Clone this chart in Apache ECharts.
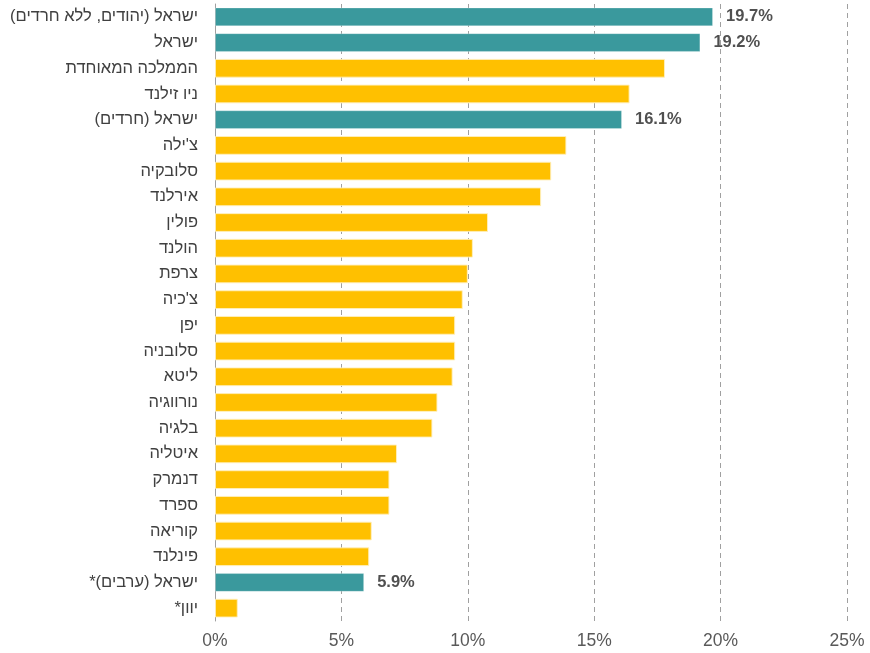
<!DOCTYPE html>
<html>
<head>
<meta charset="utf-8">
<script src="https://cdn.jsdelivr.net/npm/echarts@6/dist/echarts.min.js"></script>
<style>
  html, body { margin: 0; padding: 0; background: #ffffff; }
  #chart { width: 870px; height: 653px; }
</style>
</head>
<body>
<div id="chart" dir="rtl"></div>
<script>
// Categories, top to bottom
const categories = [
  'ישראל (יהודים, ללא חרדים)',
  'ישראל',
  'הממלכה המאוחדת',
  'ניו זילנד',
  'ישראל (חרדים)',
  "צ'ילה",
  'סלובקיה',
  'אירלנד',
  'פולין',
  'הולנד',
  'צרפת',
  "צ'כיה",
  'יפן',
  'סלובניה',
  'ליטא',
  'נורווגיה',
  'בלגיה',
  'איטליה',
  'דנמרק',
  'ספרד',
  'קוריאה',
  'פינלנד',
  'ישראל (ערבים)*',
  'יוון*'
];

// Share, in percent
const values = [
  19.7, 19.2, 17.8, 16.4, 16.1, 13.9, 13.3, 12.9, 10.8, 10.2, 10.0, 9.8,
  9.5, 9.5, 9.4, 8.8, 8.6, 7.2, 6.9, 6.9, 6.2, 6.1, 5.9, 0.9
];

// Israeli groups are drawn in teal and carry a value label
const israelRows = [true, true, false, false, true, false, false, false, false, false, false, false,
  false, false, false, false, false, false, false, false, false, false, true, false];

const tickValues = [0, 5, 10, 15, 20, 25];

const TEAL = '#3A999D';
const GOLD = '#FFC000';
const FONT = '"Liberation Sans", Arial, "DejaVu Sans", sans-serif';

const chart = echarts.init(document.getElementById('chart'), null, { renderer: 'canvas' });

const seriesData = values.map((v, i) => ({
  value: v,
  itemStyle: {
    color: israelRows[i] ? TEAL : GOLD,
    borderColor: israelRows[i] ? 'rgba(255,255,255,0.25)' : 'rgba(255,240,190,0.9)',
    borderWidth: 1
  },
  label: { show: israelRows[i] }
}));

chart.setOption({
  animation: false,
  backgroundColor: '#ffffff',
  grid: { left: 215, right: 23, top: 4, bottom: 32, containLabel: false },
  xAxis: {
    type: 'value',
    min: tickValues[0],
    max: tickValues[tickValues.length - 1],
    interval: 5,
    axisLine: { show: false },
    axisTick: { show: false },
    axisLabel: {
      formatter: v => v + '%',
      color: '#595959',
      fontFamily: FONT,
      fontSize: 17.5,
      margin: 11
    },
    splitLine: {
      show: true,
      lineStyle: { color: '#A0A0A0', type: [5, 4], width: 1 }
    }
  },
  yAxis: {
    type: 'category',
    data: categories,
    inverse: true,
    axisLine: { show: true, lineStyle: { color: '#A0A0A0', width: 1 } },
    axisTick: { show: false },
    axisLabel: {
      color: '#404040',
      fontFamily: FONT,
      fontSize: 16.5,
      margin: 17
    }
  },
  series: [{
    type: 'bar',
    data: seriesData,
    barCategoryGap: '27%',
    label: {
      position: 'right',
      distance: 13,
      formatter: p => p.value.toFixed(1) + '%',
      color: '#505050',
      fontFamily: FONT,
      fontWeight: 'bold',
      fontSize: 16.5
    }
  }]
});
</script>
</body>
</html>
